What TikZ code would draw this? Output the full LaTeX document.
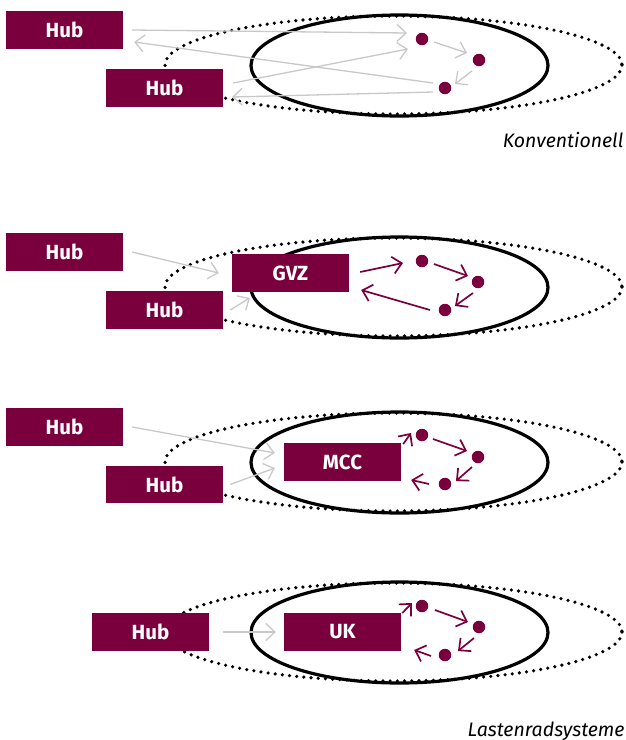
\documentclass[tikz,border=0pt]{standalone}
\usepackage{fontspec}
\setmainfont{Fira Sans}
\usetikzlibrary{arrows.meta,calc}

\definecolor{brand}{RGB}{122,0,61}
\definecolor{flow}{RGB}{200,200,200}

\tikzset{
  hubbox/.style={rectangle, fill=brand, text=white, inner sep=0pt,
    minimum width=117pt, minimum height=37.5pt,
    font=\bfseries\fontsize{20.5}{23}\selectfont},
  stop/.style={circle, fill=brand, inner sep=0pt, minimum size=12.5pt},
  ring/.style={draw=black, line width=3.2pt},
  dotring/.style={draw=black, line width=3.6pt, line cap=round,
    dash pattern=on 0pt off 7.2pt},
  tip/.style={-{Straight Barb[length=9pt,width=17pt]}},
  grayarr/.style={tip, draw=flow, line width=1.3pt},
  tourarr/.style={tip, draw=brand, line width=1.7pt},
  caption/.style={font=\itshape\fontsize{19.5}{22}\selectfont, anchor=base east}
}

\begin{document}
\begin{tikzpicture}[x=1pt, y=-1pt]
\useasboundingbox (0,0) rectangle (625,740);

% ---------- Konventionell ----------
\draw[dotring] (393.5,65) ellipse [x radius=228.5, y radius=49];
\draw[ring] (399.5,65.5) ellipse [x radius=148.5, y radius=50.5];
\node[hubbox] (h1a) at (64.5,30) {Hub};
\node[hubbox] (h1b) at (164.5,88) {Hub};
\node[stop] (p1a) at (422,39) {};
\node[stop] (p1b) at (479,60) {};
\node[stop] (p1c) at (445,88) {};
\draw[grayarr] ($(h1a.east)+(9,0)$) -- ($(p1a)+(-15,-6)$);
\draw[grayarr] ($(p1c)+(-12,-5)$) -- ($(h1a.east)+(11,12)$);
\draw[grayarr] ($(h1b.east)+(10,-5)$) -- ($(p1a)+(-14,10)$);
\draw[grayarr] ($(p1c)+(-12,4)$) -- ($(h1b.east)+(9,9)$);
\draw[grayarr] ($(p1a)+(12,3)$) -- ($(p1b)+(-12,-7)$);
\draw[grayarr] ($(p1b)+(-7,11)$) -- ($(p1c)+(10,-4)$);
\node[caption] (cap1) at (627,147) {Konventionell};

% ---------- GVZ ----------
\draw[dotring] (393.5,287) ellipse [x radius=228.5, y radius=49];
\draw[ring] (399.5,287.5) ellipse [x radius=148.5, y radius=50.5];
\node[hubbox] (h2a) at (64.5,252) {Hub};
\node[hubbox] (h2b) at (164.5,310) {Hub};
\node[hubbox] (gvz) at (290.5,273) {GVZ};
\node[stop] (p2a) at (422,261) {};
\node[stop] (p2b) at (478,282) {};
\node[stop] (p2c) at (445,310) {};
\draw[grayarr] ($(h2a.east)+(9,0)$) -- ($(gvz.west)+(-13,0)$);
\draw[grayarr] ($(h2b.east)+(7,0)$) -- ($(gvz.south west)+(18,6)$);
\draw[tourarr] ($(gvz.east)+(11,-1)$) -- ($(p2a)+(-19,2)$);
\draw[tourarr] ($(p2a)+(12,3)$) -- ($(p2b)+(-10,-6)$);
\draw[tourarr] ($(p2b)+(-5,11)$) -- ($(p2c)+(10,-4)$);
\draw[tourarr] ($(p2c)+(-15,0)$) -- ($(gvz.east)+(12,17)$);

% ---------- MCC ----------
\draw[dotring] (393.5,462) ellipse [x radius=228.5, y radius=49];
\draw[ring] (399.5,462.5) ellipse [x radius=148.5, y radius=50.5];
\node[hubbox] (h3a) at (64.5,427) {Hub};
\node[hubbox] (h3b) at (164.5,484.5) {Hub};
\node[hubbox] (mcc) at (342.5,462) {MCC};
\node[stop] (p3a) at (422,435) {};
\node[stop] (p3b) at (478,457) {};
\node[stop] (p3c) at (445,484) {};
\draw[grayarr] ($(h3a.east)+(9,0)$) -- ($(mcc.west)+(-9,-9)$);
\draw[grayarr] ($(h3b.east)+(7,0)$) -- ($(mcc.west)+(-9,6)$);
\draw[tourarr] ($(mcc.north east)+(2,1)$) -- ($(p3a)+(-11,-2)$);
\draw[tourarr] ($(p3a)+(11,4)$) -- ($(p3b)+(-11,-6)$);
\draw[tourarr] ($(p3b)+(-6,10)$) -- ($(p3c)+(11,-3)$);
\draw[tourarr] ($(p3c)+(-16,0)$) -- ($(mcc.south east)+(10,-1)$);

% ---------- UK ----------
\draw[dotring] (393.5,632) ellipse [x radius=228.5, y radius=49];
\draw[ring] (399.5,632.5) ellipse [x radius=148.5, y radius=50.5];
\node[hubbox] (h4) at (150.5,632) {Hub};
\node[hubbox] (uk) at (342.5,632) {UK};
\node[stop] (p4a) at (422,606) {};
\node[stop] (p4b) at (479,627) {};
\node[stop] (p4c) at (445,655) {};
\draw[grayarr] ($(h4.east)+(14,0)$) -- ($(uk.west)+(-8,0)$);
\draw[tourarr] ($(uk.north east)+(1,0)$) -- ($(p4a)+(-10,-3)$);
\draw[tourarr] ($(p4a)+(13,4)$) -- ($(p4b)+(-11,-5)$);
\draw[tourarr] ($(p4b)+(-5,11)$) -- ($(p4c)+(13,-4)$);
\draw[tourarr] ($(p4c)+(-14,1)$) -- ($(uk.south east)+(13,-1)$);
\node[caption] (cap2) at (628,736) {Lastenradsysteme};

\end{tikzpicture}
\end{document}
